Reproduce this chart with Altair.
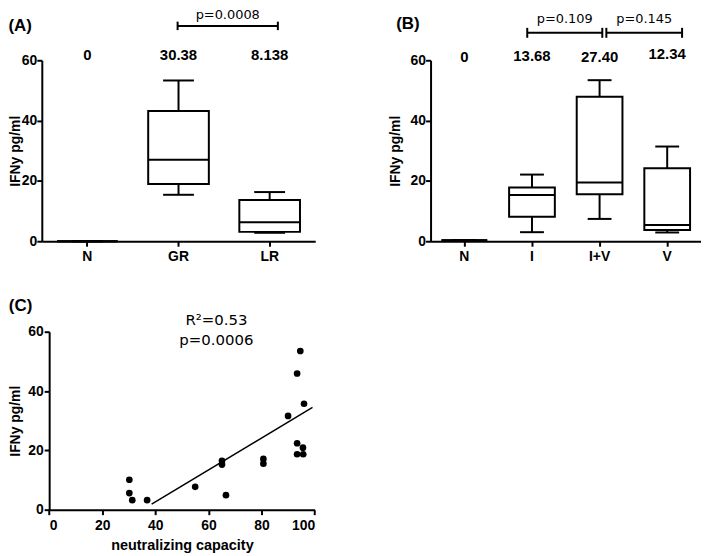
import altair as alt
import pandas as pd

FONT = "Liberation Sans"
PFONT = "DejaVu Sans"

# ---------------- Panel A data ----------------
a_groups = ["N", "GR", "LR"]
a_min = [0.0, 15.4, 2.8]
a_q1 = [0.0, 19.0, 3.1]
a_med = [0.0, 27.0, 6.3]
a_q3 = [0.0, 43.2, 13.7]
a_max = [0.0, 53.3, 16.3]
a_means = ["0", "30.38", "8.138"]
a_mean_y = [61.8, 61.8, 61.8]
a_br_x1 = [1.49]
a_br_x2 = [2.59]
a_br_y = [71.4]
a_br_lab = ["p=0.0008"]
a_br_text_y = [73.8]

# ---------------- Panel B data ----------------
b_groups = ["N", "I", "I+V", "V"]
b_min = [0.3, 3.0, 7.4, 2.9]
b_q1 = [0.3, 8.1, 15.6, 3.7]
b_med = [0.3, 15.3, 19.5, 5.4]
b_q3 = [0.3, 17.8, 47.9, 24.2]
b_max = [0.3, 22.1, 53.4, 31.4]
b_means = ["0", "13.68", "27.40", "12.34"]
b_mean_y = [61.0, 61.3, 61.0, 62.0]
b_br_x1 = [1.43, 2.60]
b_br_x2 = [2.54, 3.72]
b_br_y = [69.1, 69.1]
b_br_lab = ["p=0.109", "p=0.145"]
b_br_text_y = [72.4, 72.4]

# ---------------- Panel C data ----------------
c_x = [30.2, 30.2, 31.3, 36.9, 55.0, 65.1, 65.1, 66.6, 80.7, 80.7,
       90.0, 93.4, 94.6, 93.4, 93.4, 95.6, 95.7, 96.0]
c_y = [10.1, 5.6, 3.2, 3.2, 7.7, 16.5, 15.2, 4.9, 17.1, 15.5,
       31.6, 45.9, 53.5, 22.4, 18.7, 20.9, 18.7, 35.7]
c_fit_x = [38.6, 99.2]
c_fit_y = [1.9, 34.5]
c_labels = ["R²=0.53", "p=0.0006"]
c_label_x = [63.0, 63.0]
c_label_y = [63.8, 57.2]

C_SHIFT = 7.4  # C plot sits a little right of A in the reference


def box_panel(groups, mn, q1, med, q3, mx, means, mean_y,
              br_x1, br_x2, br_y, br_lab, br_text_y, tick_half,
              width, height, title, box_w, cap_w, label_pad, title_pad,
              t_offset, t_dx):
    df = pd.DataFrame({"cat": groups, "mn": mn, "q1": q1, "med": med,
                       "q3": q3, "mx": mx, "mean": means,
                       "mean_y": mean_y})
    x = alt.X("cat:N", sort=groups,
              scale=alt.Scale(domain=groups, paddingInner=0, paddingOuter=0),
              axis=alt.Axis(title=None, labelAngle=0, labelPadding=3,
                            labelFontSize=14))
    yscale = alt.Scale(domain=[0, 60], nice=False)
    yaxis = alt.Axis(values=[0, 20, 40, 60], title="IFNy pg/ml",
                     labelPadding=label_pad, titlePadding=title_pad)
    base = alt.Chart(df)
    bars = base.mark_bar(width=box_w, fill="white", stroke="black",
                         strokeWidth=2, opacity=1).encode(
        x=x, y=alt.Y("q1:Q", scale=yscale, axis=yaxis), y2="q3:Q")
    w_lo = base.mark_rule(strokeWidth=2, color="black").encode(
        x=x, y="mn:Q", y2="q1:Q")
    w_hi = base.mark_rule(strokeWidth=2, color="black").encode(
        x=x, y="q3:Q", y2="mx:Q")
    cap_lo = base.mark_tick(size=cap_w, thickness=2, color="black",
                            opacity=1).encode(x=x, y="mn:Q")
    cap_hi = base.mark_tick(size=cap_w, thickness=2, color="black",
                            opacity=1).encode(x=x, y="mx:Q")
    median = base.mark_tick(size=box_w, thickness=2, color="black",
                            opacity=1).encode(x=x, y="med:Q")
    mean_txt = base.mark_text(font=FONT, fontWeight="bold", fontSize=15,
                              color="black", baseline="middle").encode(
        x=x, y="mean_y:Q", text="mean:N")
    boxes = alt.layer(bars, w_lo, w_hi, cap_lo, cap_hi, median, mean_txt)

    bdf = pd.DataFrame({"x1": br_x1, "x2": br_x2, "y": br_y, "lab": br_lab,
                        "ty": br_text_y})
    bdf["xm"] = (bdf["x1"] + bdf["x2"]) / 2
    bdf["ylo"] = bdf["y"] - tick_half
    bdf["yhi"] = bdf["y"] + tick_half
    xq = alt.Scale(domain=[0, len(groups)], nice=False, zero=False)
    bb = alt.Chart(bdf)
    hline = bb.mark_rule(strokeWidth=2, color="black").encode(
        x=alt.X("x1:Q", scale=xq, axis=None), x2="x2:Q", y="y:Q")
    e1 = bb.mark_rule(strokeWidth=2, color="black").encode(
        x=alt.X("x1:Q", scale=xq, axis=None), y="ylo:Q", y2="yhi:Q")
    e2 = bb.mark_rule(strokeWidth=2, color="black").encode(
        x=alt.X("x2:Q", scale=xq, axis=None), y="ylo:Q", y2="yhi:Q")
    ptxt = bb.mark_text(font=PFONT, fontSize=13, color="black",
                        baseline="alphabetic").encode(
        x=alt.X("xm:Q", scale=xq, axis=None), y="ty:Q", text="lab:N")
    brackets = alt.layer(hline, e1, e2, ptxt)

    return alt.layer(boxes, brackets).resolve_scale(x="independent").properties(
        width=width, height=height,
        title=alt.TitleParams(title, anchor="start", frame="bounds",
                              font=FONT, fontWeight="bold", fontSize=17,
                              color="black", offset=t_offset, dx=t_dx))


panel_a = box_panel(a_groups, a_min, a_q1, a_med, a_q3, a_max, a_means,
                    a_mean_y, a_br_x1, a_br_x2, a_br_y, a_br_lab, a_br_text_y,
                    1.4, 275, 182, "(A)", 61, 31, 0, -1, -26, 0)
panel_b = box_panel(b_groups, b_min, b_q1, b_med, b_q3, b_max, b_means,
                    b_mean_y, b_br_x1, b_br_x2, b_br_y, b_br_lab, b_br_text_y,
                    1.65, 272, 182, "(B)", 46, 24, 0, 8, -20, 8)

cdf = pd.DataFrame({"x": c_x, "y": c_y})
fdf = pd.DataFrame({"x": c_fit_x, "y": c_fit_y})
ldf = pd.DataFrame({"x": c_label_x, "y": c_label_y, "t": c_labels})
cx = alt.Scale(domain=[0, 100], nice=False, range=[C_SHIFT, C_SHIFT + 267])
cy = alt.Scale(domain=[0, 60], nice=False)
pts = alt.Chart(cdf).mark_circle(size=45, color="black", opacity=1).encode(
    x=alt.X("x:Q", scale=cx,
            axis=alt.Axis(values=[0, 20, 40, 60, 80, 100],
                          title="neutralizing capacity", labelPadding=4,
                          titlePadding=6, titleFontSize=14.5)),
    y=alt.Y("y:Q", scale=cy,
            axis=alt.Axis(values=[0, 20, 40, 60], title="IFNy pg/ml",
                          labelPadding=1, titlePadding=5, offset=-C_SHIFT)))
fit = alt.Chart(fdf).mark_line(color="black", strokeWidth=1.5).encode(
    x="x:Q", y="y:Q")
lab = alt.Chart(ldf).mark_text(font=PFONT, fontSize=15, color="black",
                               baseline="middle").encode(
    x="x:Q", y="y:Q", text="t:N")
panel_c = alt.layer(pts, fit, lab).properties(
    width=267 + C_SHIFT, height=179,
    title=alt.TitleParams("(C)", anchor="start", frame="bounds", font=FONT,
                          fontWeight="bold", fontSize=17, color="black",
                          offset=-2, dx=0))

chart = alt.concat(
    panel_a, panel_b, panel_c,
    columns=2,
    spacing={"row": 34, "column": 72},
    align={"row": "each", "column": "none"},
).properties(
    padding={"left": 0, "top": -1, "right": 0, "bottom": 0}
).configure_view(stroke=None).configure_axis(
    domainColor="black", domainWidth=2, tickColor="black", tickWidth=2,
    tickSize=5, labelColor="black", labelFont=FONT, labelFontWeight="bold",
    labelFontSize=14, titleFont=FONT, titleFontWeight="bold",
    titleFontSize=14, titleColor="black", grid=False)

chart.save("out.html", embed_options={"renderer": "svg", "actions": False})
